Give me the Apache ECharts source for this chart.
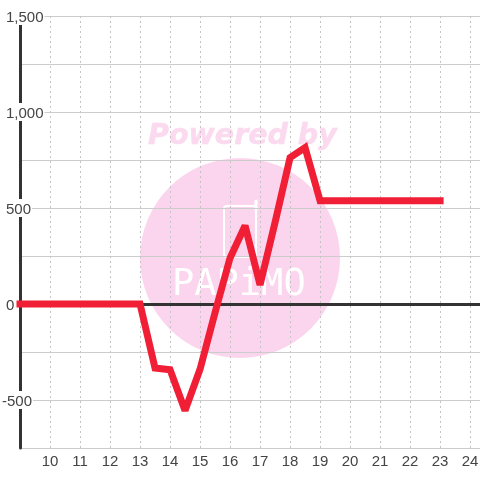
<!DOCTYPE html>
<html>
<head>
<meta charset="utf-8">
<style>html,body{margin:0;padding:0;background:#fff}#chart{width:480px;height:480px}</style>
<script src="https://cdn.jsdelivr.net/npm/echarts@6/dist/echarts.min.js"></script>
</head>
<body>
<div id="chart"></div>
<script>
var hours=[9,9.5,10,10.5,11,11.5,12,12.5,13,13.5,14,14.5,15,15.5,16,16.5,17,17.5,18,18.5,19,19.5,20,20.5,21,21.5,22,22.5,23]
var values=[0,0,0,0,0,0,0,0,0,-333,-342,-555,-340,-45,240,408,99,425,762,815,538,538,538,538,538,538,538,538,538]
var yLabels={'1500':'1,500','1000':'1,000','500':'500','0':'0','-500':'-500'}

var chart=echarts.init(document.getElementById('chart'),null,{renderer:'canvas'})
var points=hours.map(function(h,i){return [h,values[i]]})

var option={
  animation:false,
  backgroundColor:'#fff',
  textStyle:{fontFamily:'Liberation Sans'},
  grid:{left:20,right:0,top:16,bottom:32,outerBoundsMode:'none'},
  // watermark
  graphic:[
    {type:'circle',z:-1,silent:true,shape:{cx:240,cy:258,r:100},style:{fill:'#fbd5ee'}},
    {type:'text',z:-1,silent:true,x:148,y:122,style:{text:'Powered by',fill:'#fbd9ef',stroke:'#fbd9ef',lineWidth:0.5,font:'italic bold 28.5px "DejaVu Sans"'}},
    {type:'rect',z:-1,silent:true,shape:{x:224,y:206,width:32,height:51,r:3},style:{fill:'none',stroke:'#fff',lineWidth:2}},
    {type:'line',z:-1,silent:true,shape:{x1:256,y1:201,x2:256,y2:210},style:{stroke:'#fff',lineWidth:3,lineCap:'round'}},
    {type:'text',z:-1,silent:true,x:172,y:267,style:{text:'PAPiMO',fill:'#fff',stroke:'#fbd5ee',lineWidth:1.2,font:'37px "DejaVu Sans Mono"'}}
  ],
  xAxis:[
    {
      type:'value',min:9,max:24.33,interval:1,position:'bottom',
      axisLine:{show:false,onZero:false},axisTick:{show:false},
      axisLabel:{
        color:'#444',fontSize:15,margin:6,showMaxLabel:false,showMinLabel:false,
        formatter:function(v){return Number.isInteger(v)?String(v):''}
      },
      splitLine:{show:true,lineStyle:{color:'#c4c4c4',width:1,type:[2,3]}}
    },
    {
      type:'value',min:9,max:24.33,interval:1,
      axisLine:{show:true,onZero:true,lineStyle:{color:'#333',width:3}},
      axisTick:{show:false},axisLabel:{show:false},splitLine:{show:false}
    }
  ],
  yAxis:{
    type:'value',min:-750,max:1500,interval:250,
    axisLine:{show:true,onZero:false,lineStyle:{color:'#333',width:3}},
    axisTick:{show:false},
    axisLabel:{
      align:'left',margin:18,
      formatter:function(v){
        var s=yLabels[String(v)]
        if(!s)return ''
        return v<0?'{t|'+s+'}':'{g|}{t|'+s+'}'
      },
      rich:{
        t:{color:'#444',fontSize:15,backgroundColor:'#fff',padding:[3,1,0,0]},
        g:{width:4}
      }
    },
    splitLine:{show:true,lineStyle:{color:'#ccc',width:1}}
  },
  series:[{
    type:'line',data:points,xAxisIndex:0,showSymbol:false,silent:true,z:5,
    lineStyle:{color:'#f01f36',width:7,cap:'square',join:'miter',miterLimit:2}
  }]
}
chart.setOption(option)
</script>
</body>
</html>
